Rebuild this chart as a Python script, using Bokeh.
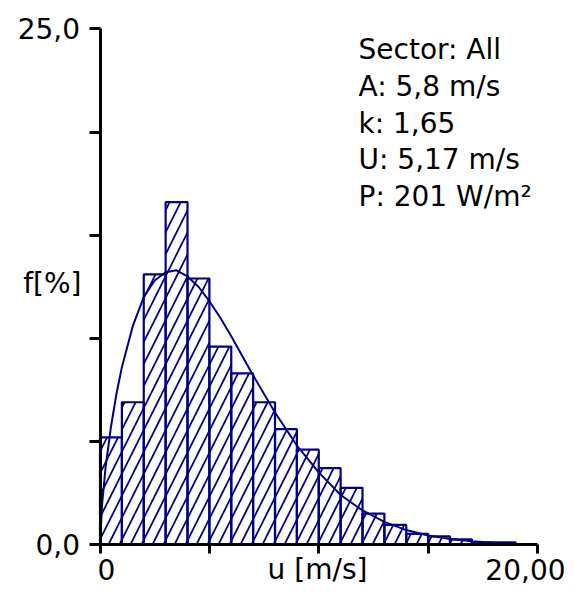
from bokeh.plotting import figure
from bokeh.models import Label, FixedTicker, Range1d
from bokeh.embed import file_html
from bokeh.resources import INLINE

# ---- data ----
bin_lo = [0, 1, 2, 3, 4, 5, 6, 7, 8, 9, 10, 11, 12, 13, 14, 15, 16, 17, 18]
bin_hi = [1, 2, 3, 4, 5, 6, 7, 8, 9, 10, 11, 12, 13, 14, 15, 16, 17, 18, 19]
freq = [5.2, 6.9, 13.1, 16.6, 12.9, 9.6, 8.3, 6.9, 5.6, 4.6, 3.7, 2.75, 1.5,
        0.95, 0.52, 0.39, 0.25, 0.1, 0.1]

curve_u = [0, 0.1, 0.25, 0.5, 0.75, 1, 1.5, 2, 2.5, 3, 3.5, 4, 4.5, 5, 5.5, 6,
           7, 8, 9, 10, 11, 12, 13, 14, 15, 16, 17, 18, 19]
curve_f = [0, 2.0, 3.7, 5.7, 7.3, 8.6, 10.6, 12.0, 12.8, 13.2, 13.3, 13.0, 12.5,
           11.8, 11.0, 10.1, 8.2, 6.4, 4.8, 3.5, 2.4, 1.65, 1.1, 0.7, 0.44,
           0.27, 0.16, 0.09, 0.05]

x_ticks = [0, 5, 10, 15, 20]
y_ticks = [0, 5, 10, 15, 20, 25]
y_tick_labels = {0: "0,0", 25: "25,0"}
x_tick_labels = {0: "0", 20: "20,00"}
x_title = "u [m/s]"
y_title = "f[%]"
info_lines = ["Sector: All", "A: 5,8 m/s", "k: 1,65", "U: 5,17 m/s", "P: 201 W/m\u00b2"]

FONT = "DejaVu Sans"
FS = "28px"
NAVY = "#000080"

W, H = 567, 587
p = figure(width=W, height=H, output_backend="svg", toolbar_location=None,
           x_range=Range1d(-4.549, 21.371), y_range=Range1d(-2.085, 26.382),
           min_border=0, min_border_left=0, min_border_right=0,
           min_border_top=0, min_border_bottom=0)
p.xgrid.visible = False
p.ygrid.visible = False
p.outline_line_color = None
p.background_fill_color = "white"
p.border_fill_color = "white"

# bars
p.quad(left=bin_lo, right=bin_hi, bottom=0, top=freq,
       fill_color=None, line_color=NAVY, line_width=2.2,
       hatch_pattern="/", hatch_color=NAVY, hatch_scale=22, hatch_weight=1.7)
# weibull curve
p.line(curve_u, curve_f, line_color=NAVY, line_width=2)

# x axis (drawn at y = 0)
xa = p.xaxis[0]
xa.fixed_location = 0
xa.bounds = (0, 20)
xa.ticker = FixedTicker(ticks=x_ticks)
xa.major_label_overrides = {t: "" for t in x_ticks}
xa.major_label_text_font_size = "1px"
xa.axis_line_width = 3
xa.axis_line_color = "black"
xa.major_tick_line_width = 3
xa.major_tick_line_color = "black"
xa.major_tick_out = 9
xa.major_tick_in = 0
xa.minor_tick_line_color = None

# y axis (drawn at x = 0)
ya = p.yaxis[0]
ya.fixed_location = 0
ya.bounds = (0, 25)
ya.ticker = FixedTicker(ticks=y_ticks)
ya.major_label_overrides = {t: y_tick_labels.get(t, "") for t in y_ticks}
ya.major_label_text_font = FONT
ya.major_label_text_font_size = FS
ya.major_label_text_color = "black"
ya.major_label_standoff = 9
ya.axis_line_width = 3
ya.axis_line_color = "black"
ya.major_tick_line_width = 3
ya.major_tick_line_color = "black"
ya.major_tick_out = 11
ya.major_tick_in = 0
ya.minor_tick_line_color = None


def lab(x, y, text, align="left"):
    p.add_layout(Label(x=x, y=y, text=text, text_font=FONT,
                       text_font_size=FS, text_color="black",
                       text_align=align, text_baseline="middle"))


# x tick labels and axis titles
lab(0.297, -1.212, x_tick_labels[0], align="center")
lab(21.28, -1.212, x_tick_labels[20], align="right")
lab(9.943, -1.212, x_title, align="center")
lab(-0.846, 12.66, y_title, align="right")

# info text block
info_y = [24.01, 22.21, 20.42, 18.67, 16.88]
for t, yy in zip(info_lines, info_y):
    lab(11.817, yy, t)

open("out.html", "w").write(file_html(p, INLINE))
